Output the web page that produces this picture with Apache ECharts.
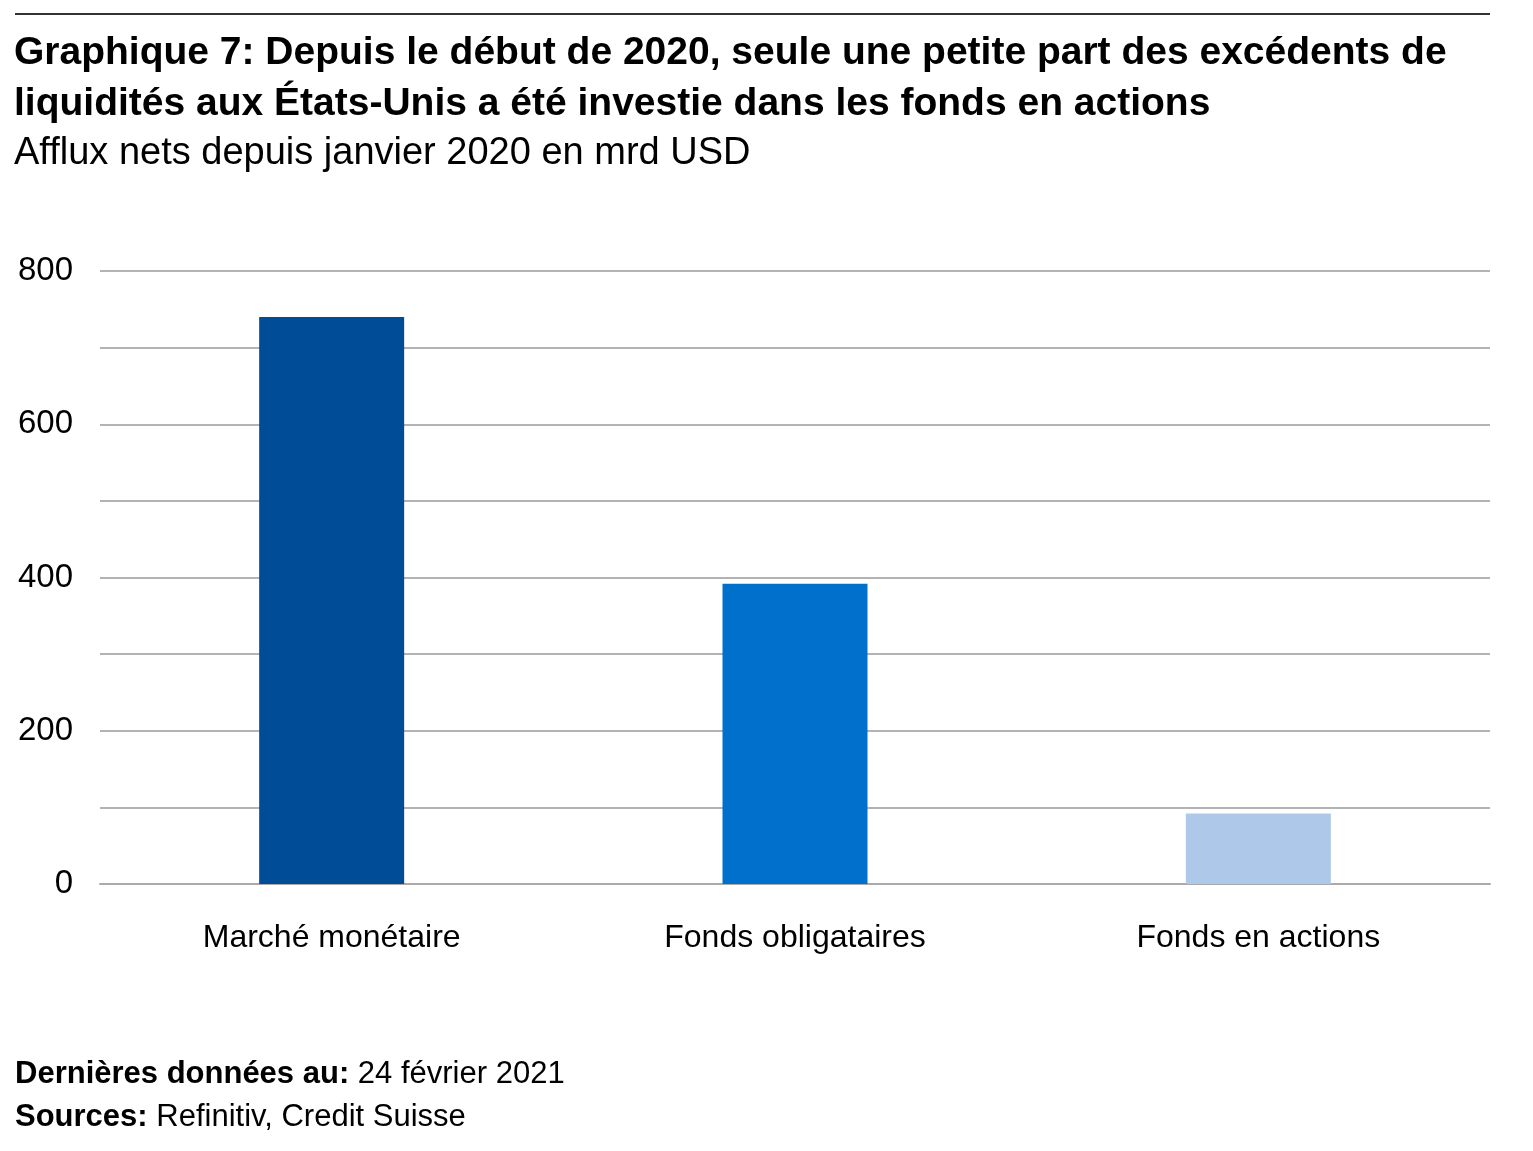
<!DOCTYPE html>
<html><head><meta charset="utf-8">
<script src="https://cdn.jsdelivr.net/npm/echarts@6/dist/echarts.min.js"></script>
<style>html,body{margin:0;padding:0;background:#fff}#c{width:1533px;height:1151px}</style>
</head><body><div id="c"></div>
<script>
const categories = ["Marché monétaire", "Fonds obligataires", "Fonds en actions"];
const values = [740, 392, 92];
const barColors = ["#004C97", "#0070CD", "#ADC8E8"];
const yTicks = [0, 200, 400, 600, 800];

const font = "'Liberation Sans', Arial, sans-serif";
const chart = echarts.init(document.getElementById('c'));
chart.setOption({
  animation: false,
  textStyle: { fontFamily: font },
  title: [
    { text: "Graphique 7: Depuis le début de 2020, seule une petite part des excédents de\nliquidités aux États-Unis a été investie dans les fonds en actions",
      left: 14, top: 28, padding: 0,
      textStyle: { fontSize: 39, fontWeight: 'bold', color: '#000', lineHeight: 51, fontFamily: font } },
    { text: "Afflux nets depuis janvier 2020 en mrd USD", left: 14, top: 135, padding: 0,
      textStyle: { fontSize: 38, fontWeight: 'normal', color: '#000', fontFamily: font } },
    { text: "{b|Dernières données au:} 24 février 2021\n{b|Sources:} Refinitiv, Credit Suisse", left: 15, top: 1053, padding: 0,
      textStyle: { fontSize: 31, fontWeight: 'normal', color: '#000', lineHeight: 43, fontFamily: font,
        rich: { b: { fontWeight: 'bold', fontSize: 31, fontFamily: font, lineHeight: 43, color: '#000' } } } }
  ],
  graphic: [
    { type: 'line', shape: { x1: 15, y1: 14, x2: 1490, y2: 14 }, style: { stroke: '#333', lineWidth: 2 } }
  ],
  grid: { left: 100, right: 43, top: 271, bottom: 267, containLabel: false },
  xAxis: {
    type: 'category', data: categories,
    axisLine: { show: true, lineStyle: { color: '#aaa', width: 2 } },
    axisTick: { show: false },
    axisLabel: { fontSize: 32, color: '#000', margin: 38, fontFamily: font }
  },
  yAxis: {
    type: 'value', min: 0, max: 800, interval: 100,
    axisLine: { show: false }, axisTick: { show: false },
    splitLine: { lineStyle: { color: '#b3b3b3', width: 2 } },
    axisLabel: { fontSize: 33, color: '#000', margin: 27, fontFamily: font,
      formatter: v => yTicks.includes(v) ? String(v) : '' }
  },
  series: [{
    type: 'bar', barWidth: 145,
    data: values.map((v, i) => ({ value: v, itemStyle: { color: barColors[i] } }))
  }]
});
</script></body></html>
